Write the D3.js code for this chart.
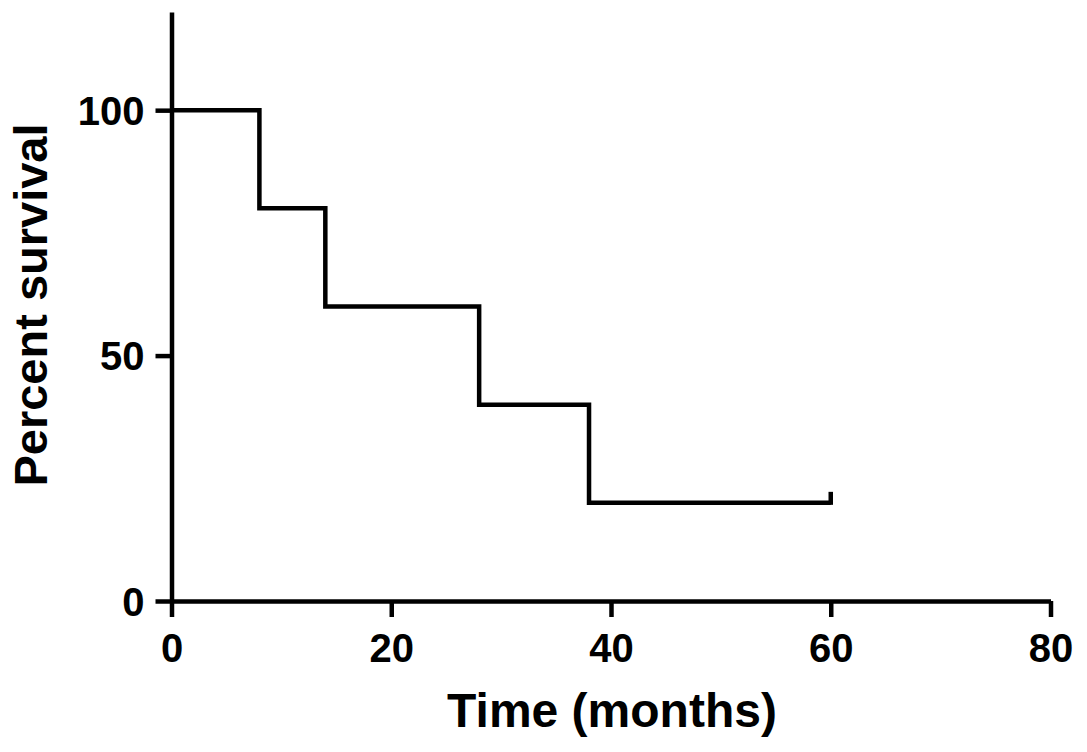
<!DOCTYPE html>
<html><head><meta charset="utf-8">
<script src="https://cdn.jsdelivr.net/npm/d3@7"></script>
<style>
body{margin:0;background:#fff;}
text{font-family:"Liberation Sans",Arial,sans-serif;font-weight:bold;fill:#000;}
</style></head>
<body>
<svg id="c" width="1087" height="752"></svg>
<script>
const times = [0, 8, 14, 28, 38, 60];
const survival = [100, 80, 60, 40, 20, 20];
const censoredTimes = [60];
const censoredValues = [20];
const xTicks = [0, 20, 40, 60, 80];
const yTicks = [0, 50, 100];
const xTitle = "Time (months)";
const yTitle = "Percent survival";

const svg = d3.select("#c");
const x = d3.scaleLinear().domain([0, 80]).range([171.5, 1050.5]);
const y = d3.scaleLinear().domain([0, 120]).range([601, 12]);

const xa = svg.append("g").attr("transform", `translate(0,${y(0)})`)
  .call(d3.axisBottom(x).tickValues(xTicks).tickSize(16).tickSizeOuter(0));
const ya = svg.append("g").attr("transform", `translate(${x(0)},0)`)
  .call(d3.axisLeft(y).tickValues(yTicks).tickSize(16).tickSizeOuter(0).tickPadding(11));
[xa, ya].forEach(g => {
  g.select(".domain").attr("stroke", "#000").attr("stroke-width", 4.5);
  g.selectAll(".tick line").attr("stroke", "#000").attr("stroke-width", 4.5);
  g.selectAll(".tick text").attr("font-size", 40).attr("font-family", "Liberation Sans, Arial, sans-serif").attr("font-weight", "bold").attr("fill", "#000");
});
xa.selectAll(".tick text").attr("dy", null).attr("y", 61);
ya.selectAll(".tick text").attr("dy", "0.36em");

const pts = times.map((t, i) => [t, survival[i]]);
const line = d3.line().x(d => x(d[0])).y(d => y(d[1])).curve(d3.curveStepAfter);
svg.append("path").datum(pts).attr("d", line)
  .attr("fill", "none").attr("stroke", "#000").attr("stroke-width", 4.5).attr("stroke-linejoin", "miter");

svg.selectAll(".cens").data(censoredTimes).enter().append("line")
  .attr("x1", (d) => x(d)).attr("x2", (d) => x(d))
  .attr("y1", (d, i) => y(censoredValues[i]) + 2).attr("y2", (d, i) => y(censoredValues[i]) - 11)
  .attr("stroke", "#000").attr("stroke-width", 4.5);

svg.append("text").attr("x", 612).attr("y", 727).attr("text-anchor", "middle")
  .attr("font-size", 48).text(xTitle);
svg.append("text").attr("transform", "translate(47,305) rotate(-90)").attr("text-anchor", "middle")
  .attr("font-size", 47).text(yTitle);
</script>
</body></html>
